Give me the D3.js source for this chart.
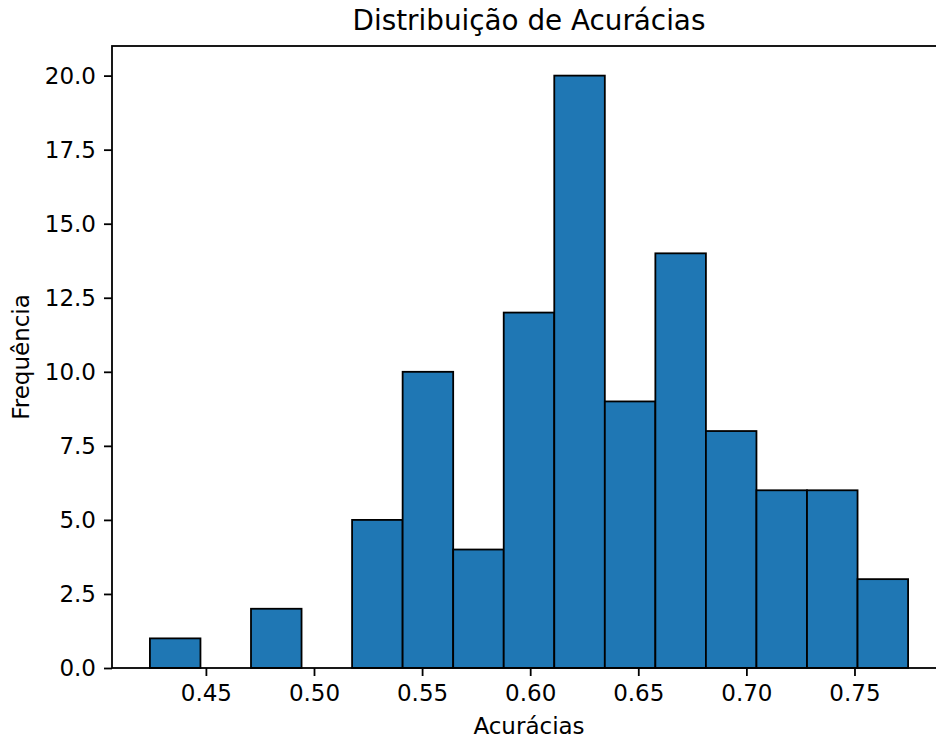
<!DOCTYPE html>
<html>
<head>
<meta charset="utf-8">
<script src="https://cdn.jsdelivr.net/npm/d3@7/dist/d3.min.js"></script>
<style>
  html, body { margin: 0; padding: 0; background: #ffffff; }
  svg { display: block; font-family: "DejaVu Sans", sans-serif; }
</style>
</head>
<body>
<svg id="chart" width="936" height="738"></svg>
<script>
// Histogram of accuracies: 15 equal-width bins
const binStart = 0.4241;
const binEnd = 0.7748;
const counts = [1, 0, 2, 0, 5, 10, 4, 12, 20, 9, 14, 8, 6, 6, 3];
const xTicks = [0.45, 0.50, 0.55, 0.60, 0.65, 0.70, 0.75];
const yTicks = [0, 2.5, 5, 7.5, 10, 12.5, 15, 17.5, 20];
const titleText = "Distribuição de Acurácias";
const xLabelText = "Acurácias";
const yLabelText = "Frequência";

const binWidth = (binEnd - binStart) / counts.length;
const bins = counts.map((c, i) => ({
  x0: binStart + i * binWidth,
  x1: binStart + (i + 1) * binWidth,
  count: c
}));

const svg = d3.select("#chart");
const plotLeft = 112, plotRight = 946, plotTop = 46, plotBottom = 668;

const pad = (binEnd - binStart) * 0.05;
const x = d3.scaleLinear().domain([binStart - pad, binEnd + pad]).range([plotLeft, plotRight]);
const yMax = d3.max(counts) * 1.05;
const y = d3.scaleLinear().domain([0, yMax]).range([plotBottom, plotTop]);

// bars
svg.append("g")
  .selectAll("rect")
  .data(bins)
  .join("rect")
  .attr("x", d => x(d.x0))
  .attr("y", d => y(d.count))
  .attr("width", d => x(d.x1) - x(d.x0))
  .attr("height", d => y(0) - y(d.count))
  .attr("fill", "#1f77b4")
  .attr("stroke", "#000000")
  .attr("stroke-width", 1.8);

// axes
const tickSize = 8;
const xAxis = d3.axisBottom(x).tickValues(xTicks).tickFormat(d3.format(".2f"))
  .tickSizeInner(tickSize).tickSizeOuter(0).tickPadding(8);
const yAxis = d3.axisLeft(y).tickValues(yTicks).tickFormat(d3.format(".1f"))
  .tickSizeInner(tickSize).tickSizeOuter(0).tickPadding(8);

const gx = svg.append("g").attr("transform", `translate(0,${plotBottom})`).call(xAxis);
const gy = svg.append("g").attr("transform", `translate(${plotLeft},0)`).call(yAxis);

[gx, gy].forEach(g => {
  g.select(".domain").remove();
  g.selectAll(".tick line").attr("stroke", "#000").attr("stroke-width", 1.8);
  g.selectAll(".tick text").attr("fill", "#000").style("font-size", "23px")
    .style("font-family", "'DejaVu Sans', sans-serif");
});
gy.selectAll(".tick text").attr("dy", "0.33em");
gx.selectAll(".tick text").attr("dy", "0.76em");

// frame
svg.append("rect")
  .attr("x", plotLeft).attr("y", plotTop)
  .attr("width", plotRight - plotLeft).attr("height", plotBottom - plotTop)
  .attr("fill", "none")
  .attr("stroke", "#000")
  .attr("stroke-width", 1.8);

// title and labels
svg.append("text")
  .attr("x", (plotLeft + plotRight) / 2).attr("y", 30)
  .attr("text-anchor", "middle")
  .style("font-size", "27.8px")
  .attr("fill", "#000")
  .text(titleText);

svg.append("text")
  .attr("x", (plotLeft + plotRight) / 2).attr("y", 734)
  .attr("text-anchor", "middle")
  .style("font-size", "23px")
  .attr("fill", "#000")
  .text(xLabelText);

svg.append("text")
  .attr("transform", `translate(29,${(plotTop + plotBottom) / 2}) rotate(-90)`)
  .attr("text-anchor", "middle")
  .style("font-size", "23px")
  .attr("fill", "#000")
  .text(yLabelText);
</script>
</body>
</html>
